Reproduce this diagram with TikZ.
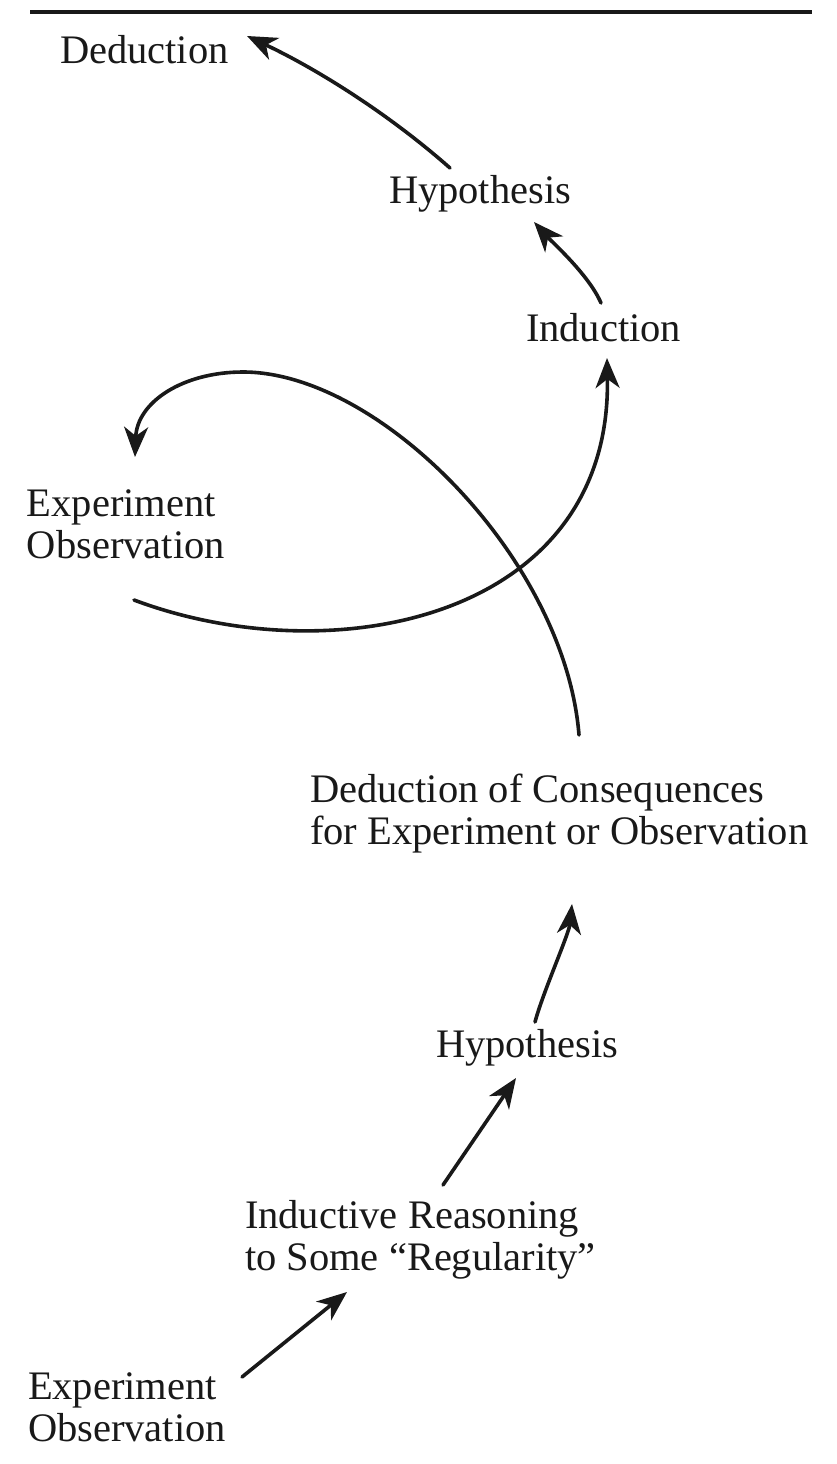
\documentclass[tikz,border=0pt]{standalone}
\usepackage{fontspec}
\setmainfont{Liberation Serif}
\usetikzlibrary{arrows.meta}
\begin{document}
\begin{tikzpicture}[x=1pt,y=-1pt,
  lbl/.style={anchor=north west, inner sep=0pt, outer sep=0pt, align=left,
    font=\fontsize{40.5}{42}\selectfont, text=black!90},
  arr/.style={line width=3.6pt, black!90, line cap=round,
    -{Stealth[length=30pt,width=24pt,inset=9pt]}},
  rule/.style={line width=3.5pt, black!90}
]
\useasboundingbox[fill=white] (0,0) rectangle (836,1464);

% top rule
\coordinate (rl) at (30,12);
\coordinate (rr) at (812,12);
\draw[rule] (rl) -- (rr);

% labels
\node[lbl] (ded)  at (60,35)   {Deduction};
\node[lbl] (hyp1) at (389,175) {Hypothesis};
\node[lbl] (ind)  at (526,313) {Induction};
\node[lbl] (eo1)  at (27,490)  {Experiment\\Observation};
\node[lbl] (dc)   at (310,774) {Deduction of Consequences\\for Experiment or Observation};
\node[lbl] (hyp2) at (436,1029) {Hypothesis};
\node[lbl] (ir)   at (245,1200) {Inductive Reasoning\\to Some “Regularity”};
\node[lbl] (eo2)  at (28,1373) {Experiment\\Observation};

% top of the loop
\coordinate (looptop) at (243,372);

% connectors
\draw[arr] ([shift={(61,-7)}]hyp1.north west)
  .. controls +(-60,-53) and +(72,34) .. ([shift={(187,1)}]ded.north west);
\draw[arr] ([shift={(75,-10)}]ind.north west)
  .. controls +(-12,-28) and +(18,20) .. ([shift={(145,47)}]hyp1.north west);
\draw[arr] ([shift={(107,110)}]eo1.north west)
  .. controls +(200,75) and +(5,260) .. ([shift={(81,45)}]ind.north west);
\draw[arr] ([shift={(269,-39)}]dc.north west)
  .. controls +(-14,-175) and +(137,0) .. (looptop)
  .. controls +(-60,0) and +(2,-55) .. ([shift={(108,-33)}]eo1.north west);
\draw[arr] ([shift={(99,-7)}]hyp2.north west)
  .. controls +(8,-30) and +(-3,30) .. ([shift={(262,130)}]dc.north west);
\draw[arr] ([shift={(198,-15)}]ir.north west) -- ([shift={(80,49)}]hyp2.north west);
\draw[arr] ([shift={(214,4)}]eo2.north west) -- ([shift={(102,92)}]ir.north west);
\end{tikzpicture}
\end{document}
